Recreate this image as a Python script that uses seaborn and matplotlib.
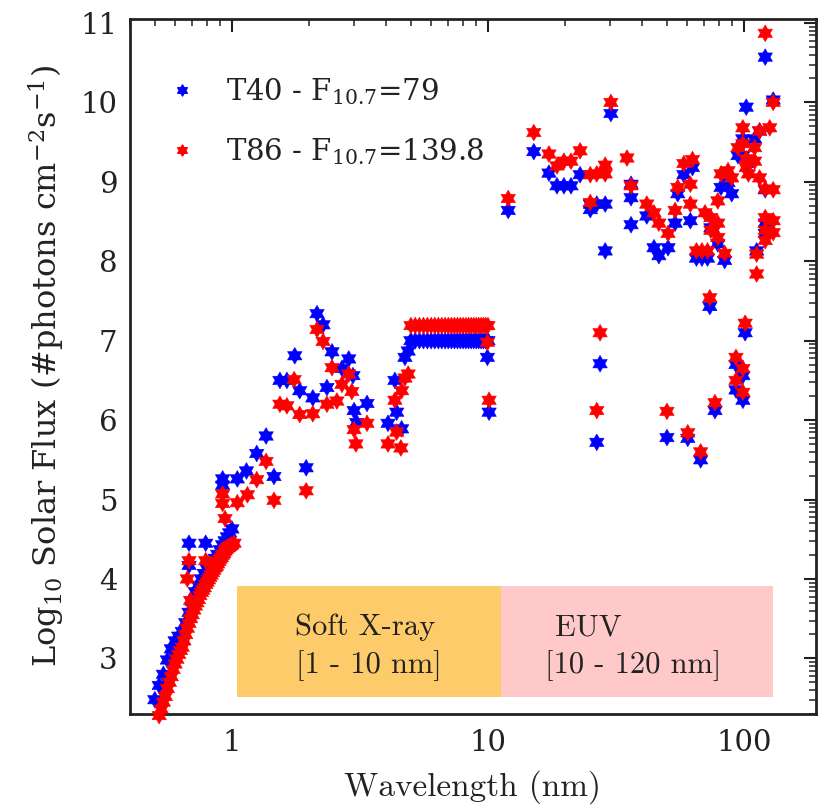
import numpy as np
import pandas as pd
import matplotlib
matplotlib.use("Agg")
import matplotlib.pyplot as plt
import seaborn as sns
from matplotlib.path import Path
from matplotlib.patches import Rectangle
from matplotlib.lines import Line2D
from matplotlib.ticker import FixedLocator, NullFormatter, LogLocator

# ---------------- data ----------------
label_t40 = r"T40 - F$_{10.7}$=79"
label_t86 = r"T86 - F$_{10.7}$=139.8"

# T40 (blue)
t40_band_wl = [0.50, 0.52, 0.54, 0.56, 0.58, 0.60, 0.62, 0.64, 0.66, 0.68, 0.70, 0.72, 0.74,
               0.76, 0.78, 0.80, 0.82, 0.84, 0.86, 0.88, 0.90, 0.92, 0.94, 0.96, 0.98, 1.00]
t40_band_flux = [2.48, 2.66, 2.80, 2.98, 3.12, 3.22, 3.28, 3.34, 3.45, 3.58, 3.72, 3.84, 3.92,
                 4.00, 4.07, 4.13, 4.18, 4.22, 4.26, 4.31, 4.37, 4.43, 4.48, 4.53, 4.58, 4.63]
t40_xray_wl = [0.68, 0.79, 0.68, 0.92, 0.92, 1.05, 1.14, 1.25, 1.36, 1.46, 1.95, 1.54, 1.64,
               1.76, 1.84, 2.07, 2.15, 2.27, 2.35, 2.46, 2.69, 2.86, 2.97, 3.00, 3.07, 3.37,
               4.07, 4.33, 4.40, 4.60, 4.74, 4.88, 9.95, 10.1]
t40_xray_flux = [4.45, 4.45, 4.17, 5.26, 5.18, 5.26, 5.36, 5.58, 5.80, 5.29, 5.40, 6.50, 6.50,
                 6.81, 6.37, 6.28, 7.34, 7.20, 6.41, 6.86, 6.65, 6.77, 6.56, 6.12, 5.97, 6.21,
                 5.96, 6.50, 6.10, 5.89, 6.79, 6.87, 6.79, 6.10]
flat_wl = [5.0, 5.2, 5.4, 5.6, 5.8, 6.0, 6.2, 6.4, 6.6, 6.8, 7.0, 7.2, 7.4, 7.6, 7.8, 8.0,
           8.2, 8.4, 8.6, 8.8, 9.0, 9.2, 9.4, 9.6, 9.8, 10.0]
t40_flat_flux = [7.00, 7.00, 7.00, 7.00, 7.00, 7.00, 7.00, 7.00, 7.00, 7.00, 7.00, 7.00, 7.00,
                 7.00, 7.00, 7.00, 7.00, 7.00, 7.00, 7.00, 7.00, 7.00, 7.00, 7.00, 7.00, 7.00]
t40_euv_wl = [12.0, 15.1, 17.3, 18.6, 19.8, 21.1, 22.9, 25.1, 25.1, 26.6, 28.7, 28.7, 30.2,
              36.2, 36.2, 36.2, 41.7, 44.5, 46.5, 50.5, 53.8, 55.1, 58.2, 61.7, 62.9, 65.2,
              68.5, 72.0, 74.2, 79.0, 81.3, 84.0, 86.6, 89.5, 94.7, 98.9, 98.9, 102, 104, 110,
              115, 121, 121, 121, 121, 130, 112, 73.5, 26.6, 27.4, 50.0, 60.3, 67.7, 77.0,
              93.0, 93.0, 99.0, 99.0, 101]
t40_euv_flux = [8.64, 9.38, 9.11, 8.95, 8.95, 8.95, 9.09, 8.72, 8.65, 8.72, 8.72, 8.13, 9.86,
                8.97, 8.80, 8.46, 8.57, 8.17, 8.07, 8.17, 8.48, 8.85, 9.09, 8.51, 9.18, 8.04,
                8.04, 8.04, 8.42, 8.22, 8.93, 8.01, 8.99, 8.85, 9.33, 9.54, 9.33, 9.94, 9.23, 9.54,
                9.64, 10.57, 8.90, 8.48, 8.35, 10.03, 8.13, 7.43, 5.72, 6.71, 5.78, 5.77, 5.50, 6.12,
                6.70, 6.38, 6.56, 6.25, 7.10]

# T86 (red)
t86_band_wl = [0.52, 0.53, 0.54, 0.55, 0.56, 0.57, 0.58, 0.59, 0.60, 0.61, 0.62, 0.63, 0.64,
               0.65, 0.66, 0.67, 0.68, 0.69, 0.70, 0.71, 0.72, 0.73, 0.74, 0.75, 0.76, 0.77,
               0.78, 0.79, 0.80, 0.81, 0.82, 0.83, 0.84, 0.85, 0.86, 0.87, 0.88, 0.89, 0.90,
               0.91, 0.92, 0.93, 0.94, 0.95, 0.96, 0.97, 0.98, 0.99, 1.00, 1.02]
t86_band_flux = [2.28, 2.36, 2.45, 2.52, 2.62, 2.70, 2.77, 2.86, 2.93, 2.99, 3.05, 3.10, 3.14,
                 3.22, 3.30, 3.38, 3.44, 3.50, 3.55, 3.61, 3.66, 3.70, 3.74, 3.79, 3.83, 3.86,
                 3.89, 3.93, 3.96, 3.99, 4.02, 4.05, 4.08, 4.11, 4.14, 4.16, 4.19, 4.22, 4.25,
                 4.27, 4.30, 4.32, 4.35, 4.37, 4.39, 4.40, 4.41, 4.42, 4.43, 4.45]
t86_xray_wl = [0.68, 0.79, 0.67, 0.69, 0.92, 0.92, 0.94, 1.05, 1.15, 1.25, 1.36, 1.46, 1.95,
               1.54, 1.64, 1.75, 1.84, 2.07, 2.15, 2.27, 2.35, 2.46, 2.57, 2.69, 2.86, 2.94,
               3.00, 3.05, 3.37, 4.07, 4.33, 4.40, 4.57, 4.60, 4.74, 4.88, 9.95, 10.1]
t86_xray_flux = [4.23, 4.23, 4.00, 3.73, 5.07, 4.95, 4.76, 4.96, 5.06, 5.25, 5.48, 4.99, 5.11,
                 6.20, 6.18, 6.51, 6.07, 6.08, 7.14, 6.99, 6.20, 6.66, 6.24, 6.45, 6.58, 6.36,
                 5.88, 5.70, 5.96, 5.70, 6.25, 5.85, 5.65, 6.37, 6.53, 6.58, 6.98, 6.25]
t86_flat_flux = [7.19, 7.19, 7.19, 7.19, 7.19, 7.19, 7.19, 7.19, 7.19, 7.19, 7.19, 7.19, 7.19,
                 7.19, 7.19, 7.19, 7.19, 7.19, 7.19, 7.19, 7.19, 7.19, 7.19, 7.19, 7.19, 7.19]
t86_euv_wl = [12.0, 15.1, 17.3, 18.6, 19.8, 21.1, 22.9, 25.1, 25.1, 26.6, 28.7, 28.7, 30.2, 34.9,
              36.2, 41.7, 44.5, 46.5, 50.5, 53.8, 55.1, 58.2, 61.7, 61.7, 62.9, 65.2, 68.5,
              72.0, 70.4, 74.2, 74.2, 79.0, 79.0, 79.0, 81.3, 84.0, 86.6, 89.5, 94.7, 98.9,
              98.9, 102, 102, 104, 110, 110, 115, 115, 121, 121, 126, 130, 130, 130, 130, 121,
              121, 121, 112, 112, 101, 73.5, 27.4, 26.6, 50.0, 60.3, 67.7, 77.0, 93.0, 93.0,
              99.0, 99.0]
t86_euv_flux = [8.79, 9.62, 9.35, 9.20, 9.26, 9.26, 9.39, 9.09, 8.74, 9.10, 9.21, 9.10, 10.00, 9.30,
                8.95, 8.72, 8.61, 8.48, 8.35, 8.64, 8.93, 9.23, 8.97, 8.72, 9.28, 8.13, 8.13,
                8.13, 8.61, 8.55, 8.39, 8.76, 8.48, 8.30, 9.10, 8.10, 9.14, 9.05, 9.43, 9.68,
                9.48, 9.29, 9.18, 9.10, 9.26, 9.43, 9.05, 9.64, 10.87, 8.91, 9.68, 10.00, 8.90,
                8.51, 8.36, 8.55, 8.39, 8.26, 8.09, 7.84, 7.22, 7.54, 7.10, 6.12, 6.11, 5.84,
                5.60, 6.22, 6.79, 6.50, 6.65, 6.35]

y_ticks = [3, 4, 5, 6, 7, 8, 9, 10, 11]
x_ticks = [1, 10, 100]
x_ticklabels = ["1", "10", "100"]

# ---------------- build table ----------------
t40_wl = t40_band_wl + t40_xray_wl + flat_wl + t40_euv_wl
t40_fx = t40_band_flux + t40_xray_flux + t40_flat_flux + t40_euv_flux
t86_wl = t86_band_wl + t86_xray_wl + flat_wl + t86_euv_wl
t86_fx = t86_band_flux + t86_xray_flux + t86_flat_flux + t86_euv_flux
df = pd.DataFrame({
    "wavelength": t40_wl + t86_wl,
    "flux": t40_fx + t86_fx,
    "series": [label_t40] * len(t40_wl) + [label_t86] * len(t86_wl),
})

# ---------------- style ----------------
sns.set_theme(style="white")
plt.rcParams["font.family"] = ["DejaVu Serif"]
plt.rcParams["mathtext.fontset"] = "dejavuserif"

# hexagram marker (MATLAB 'h')
ang = np.deg2rad(90 + 30 * np.arange(12))
rad = np.where(np.arange(12) % 2 == 0, 1.0, 1 / np.sqrt(3))
verts = np.column_stack([rad * np.cos(ang), rad * np.sin(ang)])
verts = np.vstack([verts, verts[:1]])
hexagram = Path(verts, [Path.MOVETO] + [Path.LINETO] * 11 + [Path.CLOSEPOLY])

fig = plt.figure(figsize=(8.18, 8.11), dpi=100)
ax = fig.add_axes([130 / 818, 1 - 714 / 811, 686 / 818, 695 / 811])

# shaded region boxes
ax.add_patch(Rectangle((1.05, 2.51), 11.2 - 1.05, 1.40, facecolor="#FDCB6A",
                       edgecolor="none", zorder=0))
ax.add_patch(Rectangle((11.2, 2.51), 130 - 11.2, 1.40, facecolor="#FFC9C9",
                       edgecolor="none", zorder=0))

sns.scatterplot(data=df, x="wavelength", y="flux", hue="series",
                palette={label_t40: "#0000FF", label_t86: "#FF0000"},
                marker=hexagram, s=145, linewidth=0.4, edgecolor="face",
                legend=False, ax=ax, zorder=3, clip_on=False)

ax.set_xscale("log")
ax.set_xlim(0.4, 191)
ax.set_ylim(2.3, 11.05)

ax.xaxis.set_major_locator(FixedLocator(x_ticks))
ax.set_xticklabels(x_ticklabels)
ax.xaxis.set_minor_locator(LogLocator(base=10, subs=np.arange(2, 10)))
ax.xaxis.set_minor_formatter(NullFormatter())
ax.yaxis.set_major_locator(FixedLocator(y_ticks))
ax.set_yticklabels([str(t) for t in y_ticks])
ymin_ticks = [n + np.log10(k) for n in range(2, 11) for k in range(2, 10)]
ax.yaxis.set_minor_locator(FixedLocator(ymin_ticks))

ax.tick_params(which="major", direction="in", length=9, width=1.5, top=True, right=True,
               labelsize=21, color="#222222", labelcolor="#222222")
ax.tick_params(axis="x", which="major", pad=11)
ax.tick_params(axis="y", which="major", pad=9)
ax.tick_params(which="minor", direction="in", length=5, width=1.1, top=True, right=True,
               color="#222222")
for sp in ax.spines.values():
    sp.set_linewidth(2)
    sp.set_color("#222222")

ax.set_xlabel("Wavelength (nm)", fontfamily="cmr10", fontsize=24, labelpad=9,
              color="#222222")
ax.set_ylabel(r"Log$_{10}$ Solar Flux (#photons cm$^{-2}$s$^{-1}$)", fontsize=23,
              labelpad=10, color="#222222")

# region labels
ax.text(1.756, 3.39, "Soft X-ray", fontfamily="cmr10", fontsize=22, ha="left",
        va="center", color="#222222")
ax.text(1.78, 2.91, "[1 - 10 nm]", fontfamily="cmr10", fontsize=22, ha="left",
        va="center", color="#222222")
ax.text(18.3, 3.39, "EUV", fontfamily="cmr10", fontsize=22, ha="left",
        va="center", color="#222222")
ax.text(16.7, 2.91, "[10 - 120 nm]", fontfamily="cmr10", fontsize=22, ha="left",
        va="center", color="#222222")

handles = [Line2D([], [], linestyle="none", marker=hexagram, markersize=8,
                  markerfacecolor="#0000FF", markeredgecolor="#0000FF"),
           Line2D([], [], linestyle="none", marker=hexagram, markersize=8,
                  markerfacecolor="#FF0000", markeredgecolor="#FF0000")]
ax.legend(handles, [label_t40, label_t86], loc="upper left", bbox_to_anchor=(0.016, 0.955),
          frameon=False, fontsize=21, handlelength=1.0, handletextpad=1.0,
          labelspacing=1.0, labelcolor="#222222")

fig.savefig("out.png", dpi=100)
